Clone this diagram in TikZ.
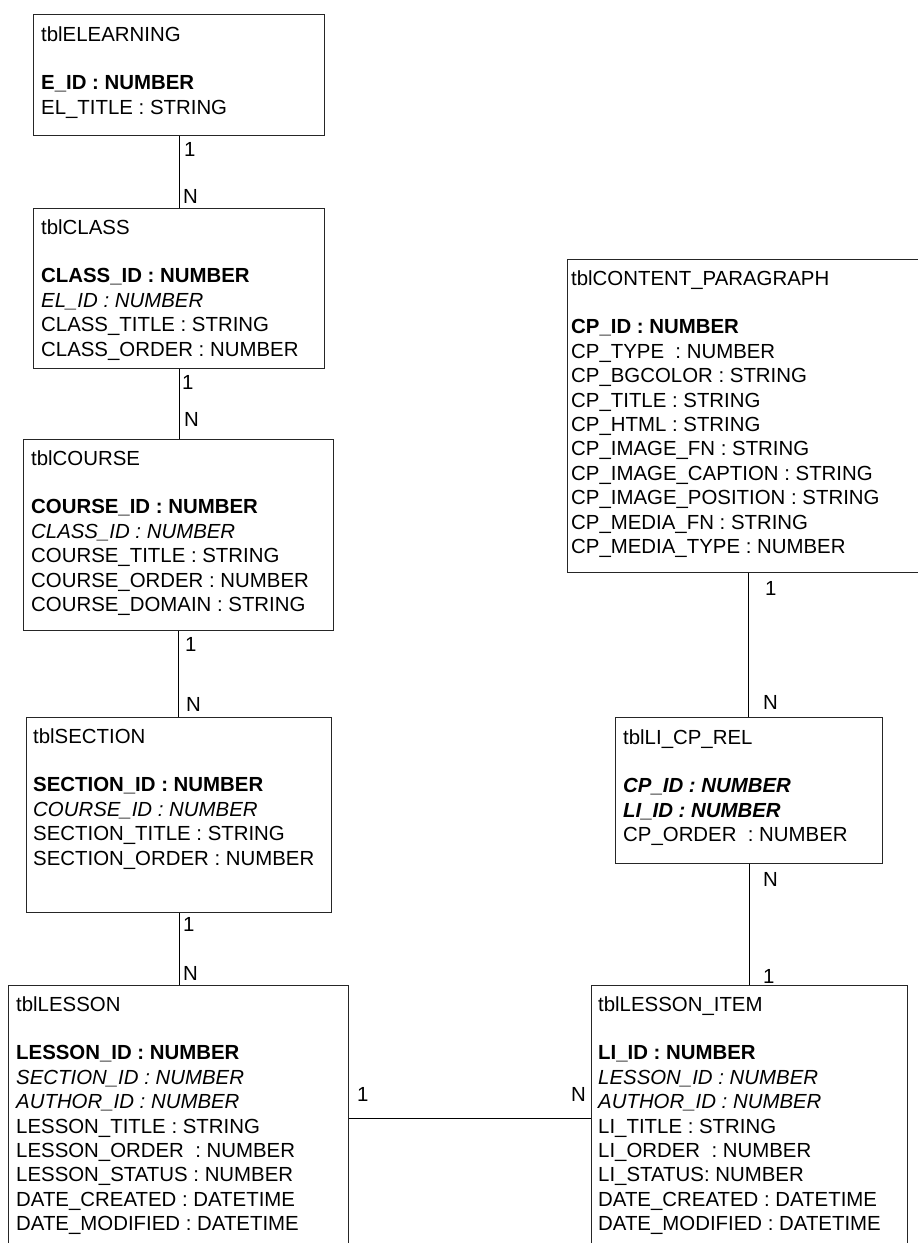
\documentclass[tikz,border=0pt]{standalone}
\usepackage{fontspec}
\setmainfont{Liberation Sans}
\begin{document}
\begin{tikzpicture}[x=1pt,y=-1pt,
  tbl/.style={draw=black!85, line width=1pt, rectangle, anchor=north west, inner sep=0pt},
  rows/.style={anchor=base west, inner sep=0pt, font=\fontsize{20.4}{24.4}\selectfont},
  card/.style={anchor=base west, inner sep=0pt, font=\fontsize{20.4}{24.4}\selectfont},
  link/.style={draw=black, line width=1pt}]
\useasboundingbox (0,0) rectangle (918,1243);
\clip (0,0) rectangle (918,1243);

% table frames
\node[tbl, minimum width=291pt, minimum height=121pt] (elearning) at (33,14) {};
\node[tbl, minimum width=291pt, minimum height=160pt] (class) at (33,208) {};
\node[tbl, minimum width=310pt, minimum height=191pt] (course) at (23,439) {};
\node[tbl, minimum width=305pt, minimum height=195pt] (section) at (26,717) {};
\node[tbl, minimum width=340pt, minimum height=300pt] (lesson) at (8,985) {};
\node[tbl, minimum width=362pt, minimum height=313pt] (cp) at (567,259) {};
\node[tbl, minimum width=267pt, minimum height=146pt] (licp) at (615,717) {};
\node[tbl, minimum width=316pt, minimum height=300pt] (item) at (591,985) {};

% table contents
\node[rows] (elearning-t) at (41,41) {\begin{tabular}[t]{@{}l@{}}
tblELEARNING\\ \\
\textbf{E\_ID : NUMBER}\\
EL\_TITLE : STRING\end{tabular}};

\node[rows] (class-t) at (41,234) {\begin{tabular}[t]{@{}l@{}}
tblCLASS\\ \\
\textbf{CLASS\_ID : NUMBER}\\
\textit{EL\_ID : NUMBER}\\
CLASS\_TITLE : STRING\\
CLASS\_ORDER : NUMBER\end{tabular}};

\node[rows] (course-t) at (31,465) {\begin{tabular}[t]{@{}l@{}}
tblCOURSE\\ \\
\textbf{COURSE\_ID : NUMBER}\\
\textit{CLASS\_ID : NUMBER}\\
COURSE\_TITLE : STRING\\
COURSE\_ORDER : NUMBER\\
COURSE\_DOMAIN : STRING\end{tabular}};

\node[rows] (section-t) at (33,743) {\begin{tabular}[t]{@{}l@{}}
tblSECTION\\ \\
\textbf{SECTION\_ID : NUMBER}\\
\textit{COURSE\_ID : NUMBER}\\
SECTION\_TITLE : STRING\\
SECTION\_ORDER : NUMBER\end{tabular}};

\node[rows] (lesson-t) at (16,1011) {\begin{tabular}[t]{@{}l@{}}
tblLESSON\\ \\
\textbf{LESSON\_ID : NUMBER}\\
\textit{SECTION\_ID : NUMBER}\\
\textit{AUTHOR\_ID : NUMBER}\\
LESSON\_TITLE : STRING\\
LESSON\_ORDER~ : NUMBER\\
LESSON\_STATUS : NUMBER\\
DATE\_CREATED : DATETIME\\
DATE\_MODIFIED : DATETIME\end{tabular}};

\node[rows] (cp-t) at (571,285) {\begin{tabular}[t]{@{}l@{}}
tblCONTENT\_PARAGRAPH\\ \\
\textbf{CP\_ID : NUMBER}\\
CP\_TYPE~ : NUMBER\\
CP\_BGCOLOR : STRING\\
CP\_TITLE : STRING\\
CP\_HTML : STRING\\
CP\_IMAGE\_FN : STRING\\
CP\_IMAGE\_CAPTION : STRING\\
CP\_IMAGE\_POSITION : STRING\\
CP\_MEDIA\_FN : STRING\\
CP\_MEDIA\_TYPE : NUMBER\end{tabular}};

\node[rows] (licp-t) at (623,744) {\begin{tabular}[t]{@{}l@{}}
tblLI\_CP\_REL\\ \\
\textbf{\textit{CP\_ID : NUMBER}}\\
\textbf{\textit{LI\_ID : NUMBER}}\\
CP\_ORDER~ : NUMBER\end{tabular}};

\node[rows] (item-t) at (598,1011) {\begin{tabular}[t]{@{}l@{}}
tblLESSON\_ITEM\\ \\
\textbf{LI\_ID : NUMBER}\\
\textit{LESSON\_ID : NUMBER}\\
\textit{AUTHOR\_ID : NUMBER}\\
LI\_TITLE : STRING\\
LI\_ORDER~ : NUMBER\\
LI\_STATUS: NUMBER\\
DATE\_CREATED : DATETIME\\
DATE\_MODIFIED : DATETIME\end{tabular}};

% relationships
\draw[link] (elearning.south) -- (elearning.south |- class.north);
\draw[link] (class.south) -- (class.south |- course.north);
\draw[link] (course.south) -- (course.south |- section.north);
\draw[link] (section.south) -- (section.south |- lesson.north);
\draw[link] (cp.south) -- (cp.south |- licp.north);
\draw[link] (licp.south) -- (licp.south |- item.north);
\coordinate (lnk) at (0,1118);
\draw[link] (lesson.east |- lnk) -- (item.west |- lnk);

% cardinalities
\node[card] (c1a) at (184,156) {1};
\node[card] (c1b) at (183,203) {N};
\node[card] (c2a) at (182,389) {1};
\node[card] (c2b) at (184,426) {N};
\node[card] (c3a) at (185,651) {1};
\node[card] (c3b) at (186,711) {N};
\node[card] (c4a) at (183,931) {1};
\node[card] (c4b) at (183,980) {N};
\node[card] (c5a) at (357,1101) {1};
\node[card] (c5b) at (571,1101) {N};
\node[card] (c6a) at (765,595) {1};
\node[card] (c6b) at (763,709) {N};
\node[card] (c7a) at (763,886) {N};
\node[card] (c7b) at (763,983) {1};
\end{tikzpicture}
\end{document}
